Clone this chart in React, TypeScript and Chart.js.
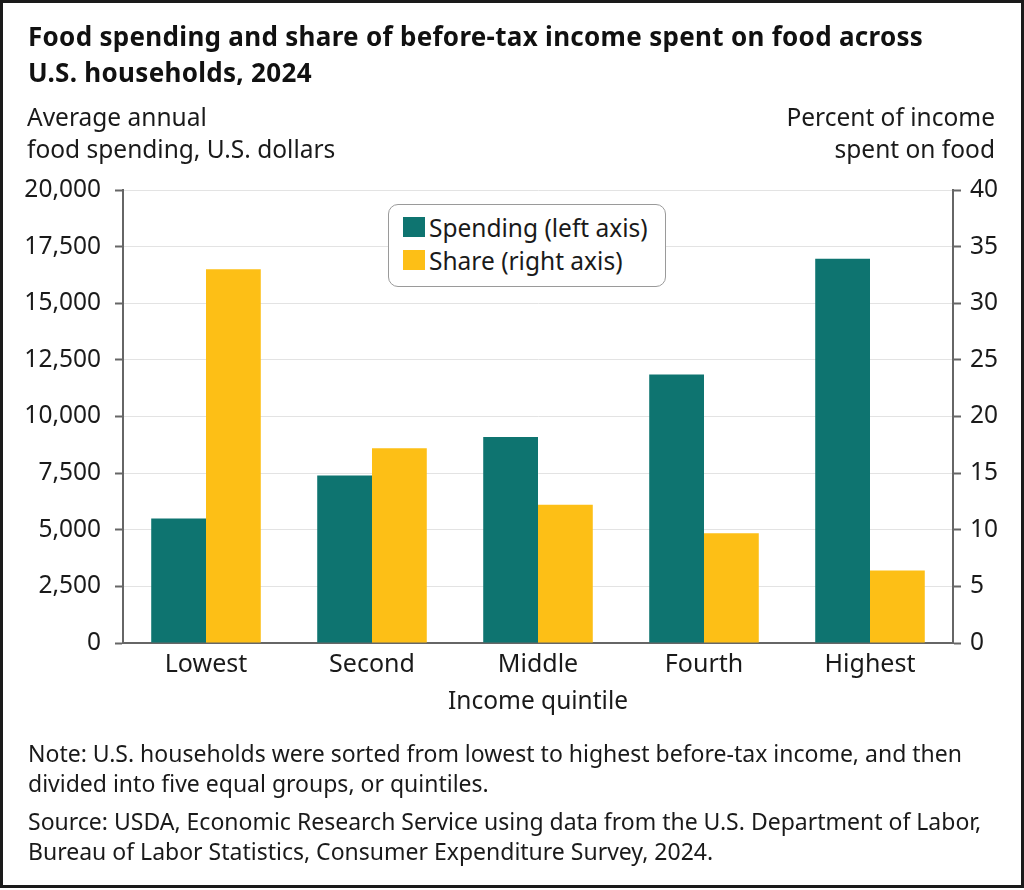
import React, { useEffect, useRef } from "react";
import { Chart, registerables } from "chart.js";

Chart.register(...registerables);

// ---- data ----
const categories = ["Lowest", "Second", "Middle", "Fourth", "Highest"];
const spending = [5500, 7400, 9100, 11850, 16970];
const share = [33.0, 17.2, 12.2, 9.7, 6.4];
const leftTicks = { min: 0, max: 20000, step: 2500 };
const rightTicks = { min: 0, max: 40, step: 5 };
const seriesLabels = ["Spending (left axis)", "Share (right axis)"];

const TEAL = "#0e7470";
const GOLD = "#fdbf16";
const AXIS = "#666666";
const GRID = "#e3e3e3";
const TEXT = "#1a1a1a";
const FONT = "'Noto Sans', Lato, sans-serif";

export default function App() {
  const canvasRef = useRef<HTMLCanvasElement | null>(null);

  useEffect(() => {
    const canvas = canvasRef.current;
    if (!canvas) return;
    Chart.defaults.font.family = FONT;
    Chart.defaults.color = TEXT;
    const chart = new Chart(canvas, {
      type: "bar",
      data: {
        labels: categories,
        datasets: [
          {
            label: seriesLabels[0],
            data: spending,
            backgroundColor: TEAL,
            yAxisID: "y",
            categoryPercentage: 0.66,
            barPercentage: 1,
            borderWidth: 0,
          },
          {
            label: seriesLabels[1],
            data: share,
            backgroundColor: GOLD,
            yAxisID: "y1",
            categoryPercentage: 0.66,
            barPercentage: 1,
            borderWidth: 0,
          },
        ],
      },
      options: {
        responsive: false,
        animation: false,
        events: [],
        layout: { padding: { top: 190, left: 0, right: 0, bottom: 0 } },
        plugins: {
          legend: { display: false },
          tooltip: { enabled: false },
          title: { display: false },
        },
        scales: {
          x: {
            grid: { display: false, drawTicks: false },
            border: { display: true, color: AXIS, width: 2 },
            ticks: { padding: 7, color: TEXT, font: { size: 25 } },
            title: {
              display: true,
              text: "Income quintile",
              color: TEXT,
              font: { size: 24.5 },
              padding: { top: 0, bottom: 173 },
            },
            afterFit: (s: any) => {
              s.height = 247;
            },
          },
          y: {
            position: "left",
            min: leftTicks.min,
            max: leftTicks.max,
            ticks: {
              stepSize: leftTicks.step,
              padding: 14,
              color: TEXT,
              font: { size: 24.5 },
              callback: (v: any) => Number(v).toLocaleString("en-US"),
            },
            grid: {
              color: (ctx: any) => (ctx.tick && ctx.tick.value === 0 ? AXIS : GRID),
              tickColor: AXIS,
              tickLength: 8,
              lineWidth: 1,
              tickWidth: 2,
            },
            border: { display: true, color: AXIS, width: 2 },
            afterFit: (s: any) => {
              s.width = 123;
            },
          },
          y1: {
            position: "right",
            min: rightTicks.min,
            max: rightTicks.max,
            ticks: {
              stepSize: rightTicks.step,
              padding: 9,
              color: TEXT,
              font: { size: 24.5 },
            },
            grid: {
              drawOnChartArea: false,
              color: AXIS,
              tickColor: AXIS,
              tickLength: 8,
              tickWidth: 2,
            },
            border: { display: true, color: AXIS, width: 2 },
            afterFit: (s: any) => {
              s.width = 71;
            },
          },
        },
      },
    });
    return () => chart.destroy();
  }, []);

  const abs = (o: React.CSSProperties): React.CSSProperties => ({
    position: "absolute",
    margin: 0,
    fontFamily: FONT,
    color: TEXT,
    whiteSpace: "nowrap",
    ...o,
  });

  return (
    <div
      style={{
        position: "absolute",
        left: 0,
        top: 0,
        width: 1024,
        height: 890,
        background: "#fff",
        overflow: "hidden",
      }}
    >
      <canvas
        ref={canvasRef}
        width={1024}
        height={890}
        style={{ position: "absolute", left: 0, top: 0, width: 1024, height: 890 }}
      />
      <div
        style={abs({
          left: 28,
          top: 17.9,
          fontSize: 26,
          fontWeight: 700,
          lineHeight: "36px",
          letterSpacing: "0.3px",
          color: "#111",
        })}
      >
        <div>Food spending and share of before-tax income spent on food across</div>
        <div>U.S. households, 2024</div>
      </div>
      <div style={abs({ left: 27, top: 101.2, fontSize: 24.5, lineHeight: "32px" })}>
        <div>Average annual</div>
        <div>food spending, U.S. dollars</div>
      </div>
      <div style={abs({ right: 29, top: 101.2, fontSize: 24.5, lineHeight: "32px", textAlign: "right" })}>
        <div>Percent of income</div>
        <div>spent on food</div>
      </div>
      <div
        style={abs({
          left: 388,
          top: 204,
          width: 278,
          height: 83,
          boxSizing: "border-box",
          border: "1.5px solid #9a9a9a",
          borderRadius: 10,
          background: "#fff",
        })}
      />
      {[TEAL, GOLD].map((c, i) => (
        <div
          key={i}
          style={abs({
            left: 403,
            top: 210.7 + i * 33,
            height: 33,
            display: "flex",
            alignItems: "center",
            fontSize: 24.5,
            lineHeight: "33px",
          })}
        >
          <span style={{ display: "inline-block", width: 22, height: 20, background: c, marginRight: 4 }} />
          <span>{seriesLabels[i]}</span>
        </div>
      ))}
      <div style={abs({ left: 28, top: 738, fontSize: 23, lineHeight: "30px" })}>
        <div>Note: U.S. households were sorted from lowest to highest before-tax income, and then</div>
        <div>divided into five equal groups, or quintiles.</div>
      </div>
      <div style={abs({ left: 28, top: 806, fontSize: 23, lineHeight: "30px" })}>
        <div>Source: USDA, Economic Research Service using data from the U.S. Department of Labor,</div>
        <div>Bureau of Labor Statistics, Consumer Expenditure Survey, 2024.</div>
      </div>
      <div
        style={{
          position: "absolute",
          left: 0,
          top: 0,
          width: 1024,
          height: 888,
          boxSizing: "border-box",
          border: "3px solid #1a1a1a",
          pointerEvents: "none",
        }}
      />
    </div>
  );
}
